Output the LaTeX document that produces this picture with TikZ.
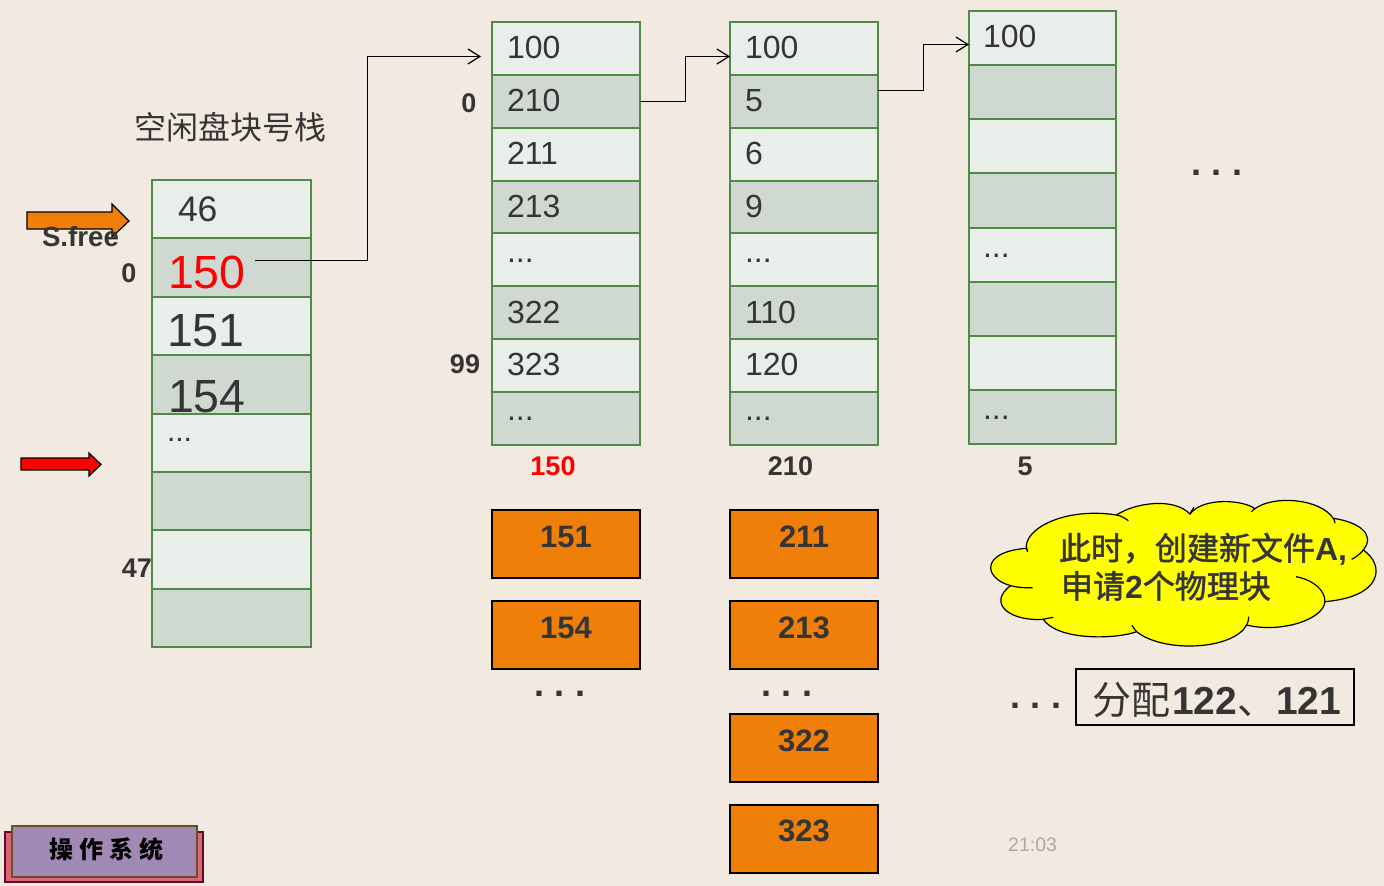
\documentclass[tikz,border=0pt]{standalone}
\usepackage{fontspec}
\setmainfont{Liberation Sans}
\newfontfamily\cjk{Noto Sans CJK SC}
\newfontfamily\cjkm[FakeBold=1.6]{Noto Sans CJK SC}
\usetikzlibrary{arrows.meta}
\definecolor{bgc}{HTML}{F2EAE0}
\definecolor{lightc}{HTML}{E9EEEA}
\definecolor{darkc}{HTML}{CFD9D1}
\definecolor{greenc}{HTML}{4F8A46}
\definecolor{orangec}{HTML}{F07F09}
\definecolor{txtc}{HTML}{353535}
\definecolor{cloudc}{RGB}{255,255,0}
\definecolor{redc}{RGB}{255,0,0}
\newcommand{\fsz}[1]{\fontsize{#1}{#1}\selectfont}
\newcommand{\spdots}{.\hspace{10.5pt}.\hspace{10.5pt}.}
\tikzset{
  x=1pt,y=-1pt,
  cellbox/.style={draw=greenc,line width=1.5pt,minimum width=#1,inner sep=0pt,outer sep=0pt},
  txt/.style={anchor=base west,inner sep=0pt,outer sep=0pt,text=txtc,font=\fsz{32}},
  boldlab/.style={anchor=base,inner sep=0pt,outer sep=0pt,text=txtc,font=\bfseries\fsz{27}},
  block/.style={draw=black,line width=1.5pt,fill=orangec,minimum width=148pt,minimum height=68pt,inner sep=0pt,outer sep=0pt},
  blocktxt/.style={anchor=base,inner sep=0pt,outer sep=0pt,text=txtc,font=\bfseries\fsz{31}},
  dotsb/.style={anchor=base west,inner sep=0pt,outer sep=0pt,text=txtc,font=\bfseries\fsz{36}},
  link/.style={draw=black,line width=1.2pt,-{Straight Barb[length=12pt,width=15pt,line width=1.2pt]}},
  cjkbold/.style={anchor=base west,inner sep=0pt,outer sep=0pt,text=txtc,font=\cjkm\fsz{32}},
}
\newcommand{\mkcell}[6]{% name,x0,x1,y0,y1,colour
  \node[cellbox=#3pt-#2pt,minimum height=#5pt-#4pt,fill=#6] (#1) at ({(#2+#3)/2},{(#4+#5)/2}) {};
}
\begin{document}
\begin{tikzpicture}
\fill[bgc] (0,0) rectangle (1384,886);
\useasboundingbox (0,0) rectangle (1384,886);

% title
\node[anchor=base west,inner sep=0pt,text=txtc,font=\cjk\fsz{32}] (title) at (134,139) {空闲盘块号栈};

% column 1
\mkcell{ca1}{152}{311}{180}{238}{lightc}
\mkcell{ca2}{152}{311}{238}{297}{darkc}
\mkcell{ca3}{152}{311}{297}{355}{lightc}
\mkcell{ca4}{152}{311}{355}{414}{darkc}
\begin{scope}
\clip (152,355) rectangle (311,414);
\node[txt,font=\fsz{46.5}] (t154) at (168,412) {154};
\end{scope}
\mkcell{ca5}{152}{311}{414}{472}{lightc}
\mkcell{ca6}{152}{311}{472}{530}{darkc}
\mkcell{ca7}{152}{311}{530}{589}{lightc}
\mkcell{ca8}{152}{311}{589}{647}{darkc}
\node[txt,font=\fsz{35.5}] (t46) at (178,221) {46};
\node[txt,font=\fsz{46.5},text=red] (t150) at (168,288) {150};
\node[txt,font=\fsz{46.5}] (t151) at (167,346) {151};
\node[txt,font=\fsz{30}] (tad) at (167,441) {...};

% columns 2 and 3
\foreach \n/\xa/\xb in {b/492/640,c/730/878}{
  \mkcell{\n1}{\xa}{\xb}{22}{75}{lightc}
  \mkcell{\n2}{\xa}{\xb}{75}{128}{darkc}
  \mkcell{\n3}{\xa}{\xb}{128}{181}{lightc}
  \mkcell{\n4}{\xa}{\xb}{181}{233}{darkc}
  \mkcell{\n5}{\xa}{\xb}{233}{286}{lightc}
  \mkcell{\n6}{\xa}{\xb}{286}{339}{darkc}
  \mkcell{\n7}{\xa}{\xb}{339}{392}{lightc}
  \mkcell{\n8}{\xa}{\xb}{392}{445}{darkc}
}
% column 4
\mkcell{d1}{969}{1116}{11}{65}{lightc}
\mkcell{d2}{969}{1116}{65}{119}{darkc}
\mkcell{d3}{969}{1116}{119}{173}{lightc}
\mkcell{d4}{969}{1116}{173}{228}{darkc}
\mkcell{d5}{969}{1116}{228}{282}{lightc}
\mkcell{d6}{969}{1116}{282}{336}{darkc}
\mkcell{d7}{969}{1116}{336}{390}{lightc}
\mkcell{d8}{969}{1116}{390}{444}{darkc}

\node[txt] (tb1) at (507,58) {100};
\node[txt] (tb2) at (507,111) {210};
\node[txt] (tb3) at (507,164) {211};
\node[txt] (tb4) at (507,217) {213};
\node[txt] (tb5) at (507,262) {...};
\node[txt] (tb6) at (507,323) {322};
\node[txt] (tb7) at (507,375) {323};
\node[txt] (tb8) at (507,420) {...};
\node[txt] (tc1) at (745,58) {100};
\node[txt] (tc2) at (745,111) {5};
\node[txt] (tc3) at (745,164) {6};
\node[txt] (tc4) at (745,217) {9};
\node[txt] (tc5) at (745,262) {...};
\node[txt] (tc6) at (745,323) {110};
\node[txt] (tc7) at (745,375) {120};
\node[txt] (tc8) at (745,420) {...};
\node[txt] (td1) at (983,47) {100};
\node[txt] (td5) at (983,257) {...};
\node[txt] (td8) at (983,419) {...};

% side labels
\node[boldlab] (l0a) at (129,282) {0};
\node[boldlab] (l47) at (137,577) {47};
\node[boldlab] (l0b) at (469,112) {0};
\node[boldlab] (l99) at (465,373) {99};
\node[boldlab,text=redc] (l150) at (553,475) {150};
\node[boldlab] (l210) at (790.5,475) {210};
\node[boldlab] (l5) at (1025,475) {5};

% arrows
\draw[black,line width=1.2pt,fill=orangec,line join=miter] (27,212) -- (112,212) -- (112,204) -- (129,221) -- (112,237) -- (112,229) -- (27,229) -- cycle;
\node[boldlab,anchor=base west,font=\bfseries\fsz{27.7}] (sfree) at (42,246) {S.free};
\draw[black,line width=1.2pt,fill=redc,line join=miter] (21,458) -- (89,458) -- (89,453) -- (101,464.5) -- (89,476) -- (89,470) -- (21,470) -- cycle;

% connectors
\coordinate (s1) at (255,260.5);
\coordinate (e1) at (481,56.5);
\draw[link] (s1) -- (367.5,260.5) -- (367.5,56.5) -- (e1);
\coordinate (s2) at (b2.east);
\coordinate (e2) at (c1.west |- e1);
\draw[link] (s2) -- (685.5,101.5) -- (685.5,56.5) -- (e2);
\coordinate (s3) at (878,90.5);
\coordinate (e3) at (969,44.5);
\draw[link] (s3) -- (923.5,90.5) -- (923.5,44.5) -- (e3);

% orange blocks
\node[block] (o1) at (566,544) {};
\node[block] (o2) at (566,635) {};
\node[block] (o3) at (804,544) {};
\node[block] (o4) at (804,635) {};
\node[block] (o5) at (804,748) {};
\node[block] (o6) at (804,839) {};
\node[blocktxt] (ot1) at (566,547) {151};
\node[blocktxt] (ot2) at (566,638) {154};
\node[blocktxt] (ot3) at (804,547) {211};
\node[blocktxt] (ot4) at (804,638) {213};
\node[blocktxt] (ot5) at (804,751) {322};
\node[blocktxt] (ot6) at (804,841) {323};

% dots
\node[dotsb] (dd1) at (1191,175) {\spdots};
\node[dotsb] (dd2) at (534,696) {\spdots};
\node[dotsb] (dd3) at (761,696) {\spdots};
\node[dotsb] (dd4) at (1010,708) {\spdots};

% cloud
\begin{scope}[shift={(980,490)},x=0.3333pt,y=-0.3333pt]
\draw[black,line width=1.2pt,fill=cloudc]
  (140,180) .. controls (125,120) and (250,50) .. (410,75)
  .. controls (460,40) and (580,20) .. (630,72)
  .. controls (670,20) and (790,30) .. (825,56)
  .. controls (880,15) and (1020,25) .. (1060,85)
  .. controls (1130,95) and (1190,130) .. (1150,180)
  .. controls (1215,225) and (1210,320) .. (1035,335)
  .. controls (1030,390) and (900,430) .. (800,405)
  .. controls (760,480) and (550,490) .. (470,425)
  .. controls (400,450) and (230,450) .. (190,388)
  .. controls (90,395) and (20,340) .. (92,287)
  .. controls (10,265) and (0,185) .. (140,175)
  -- cycle;
\draw[black,line width=1.2pt]
  (410,75) .. controls (425,78) and (435,85) .. (445,92)
  (630,72) .. controls (633,65) and (638,58) .. (642,52)
  (815,65) .. controls (818,60) and (822,58) .. (825,56)
  (1060,85) .. controls (1063,90) and (1065,95) .. (1065,100)
  (1150,180) .. controls (1140,192) and (1128,202) .. (1115,208)
  (1035,335) .. controls (1035,300) and (1000,270) .. (948,260)
  (800,405) .. controls (805,395) and (806,388) .. (806,380)
  (470,425) .. controls (465,420) and (460,413) .. (456,406)
  (190,388) .. controls (200,385) and (210,384) .. (220,382)
  (92,287) .. controls (115,293) and (135,294) .. (158,293)
  (140,175) .. controls (141,178) and (142,182) .. (143,186);
\end{scope}
\node[cjkbold] (cl1) at (1059,560) {此时，创建新文件{\rmfamily\bfseries A,}};
\node[cjkbold] (cl2) at (1061,598) {申请{\rmfamily\bfseries 2}个物理块};

% result box
\node[draw=black,line width=2pt,minimum width=278pt,minimum height=56pt,inner sep=0pt,outer sep=0pt] (res) at (1215,697) {};
\node[anchor=base west,inner sep=0pt,text=txtc,font=\fsz{39}] (restxt) at (1092,714) {{\cjk 分配}\hspace{2pt}\textbf{122}{\cjk 、}\textbf{121}};

% time
\node[anchor=base west,inner sep=0pt,text={rgb,255:red,172;green,168;blue,163},font=\fsz{19.5}] (time) at (1008,851) {21:03};

% badge
\node[draw={rgb,255:red,92;green,15;blue,30},line width=2pt,fill={rgb,255:red,217;green,102;blue,122},minimum width=198pt,minimum height=50pt,inner sep=0pt,outer sep=0pt] (bd1) at (104,856.5) {};
\node[draw={rgb,255:red,107;green,78;blue,38},line width=2pt,fill={rgb,255:red,160;green,138;blue,181},minimum width=185pt,minimum height=51pt,inner sep=0pt,outer sep=0pt] (bd2) at (104.5,851.5) {};
\node[inner sep=0pt,text=black,font=\cjk\bfseries\fsz{24}] (bdt) at (106,849) {操\hspace{6pt}作\hspace{6pt}系\hspace{6pt}统};
\end{tikzpicture}
\end{document}
